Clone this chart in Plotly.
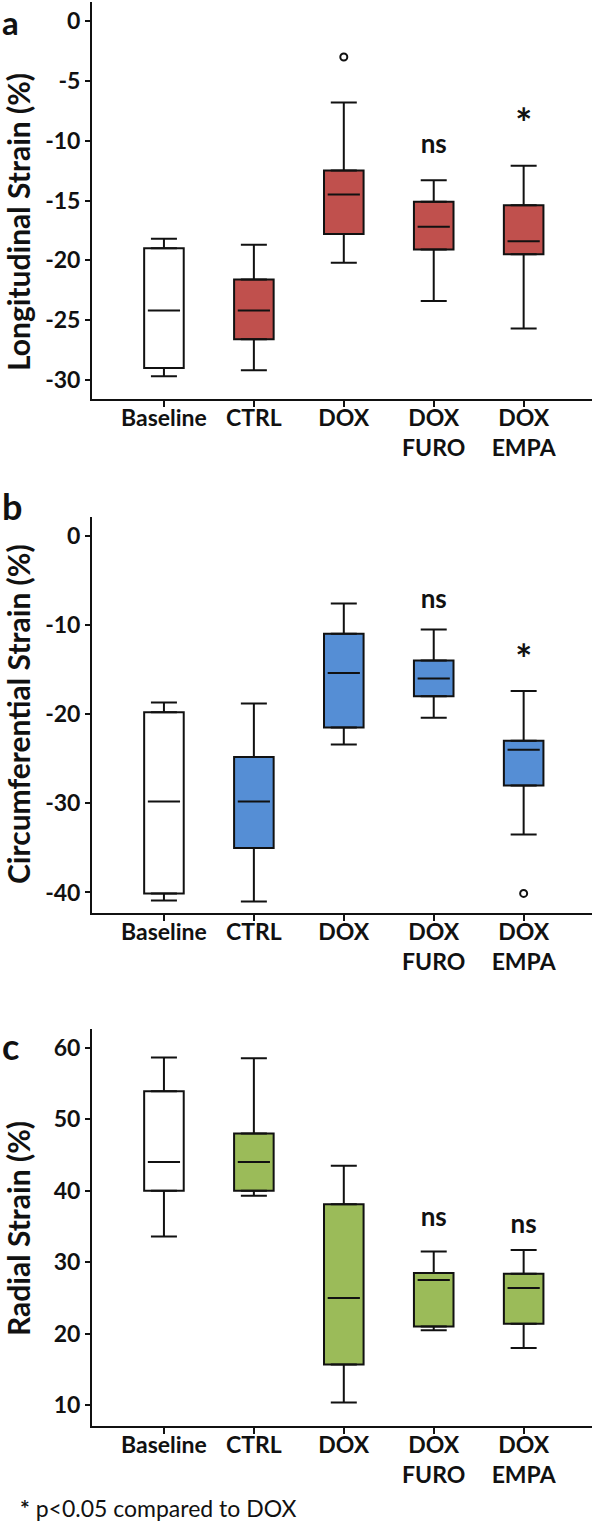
import plotly.graph_objects as go

W, H = 598, 1526

categories = ["Baseline", "CTRL", "DOX", "DOX FURO", "DOX EMPA"]
tick_labels = ["Baseline", "CTRL", "DOX", "DOX<br>FURO", "DOX<br>EMPA"]

# Panel a: Longitudinal strain
a_low = [-29.7, -29.2, -20.2, -23.4, -25.7]
a_q1 = [-29.0, -26.6, -17.8, -19.1, -19.5]
a_med = [-24.2, -24.2, -14.5, -17.2, -18.4]
a_q3 = [-19.0, -21.6, -12.5, -15.1, -15.4]
a_high = [-18.2, -18.7, -6.8, -13.3, -12.1]
a_out_x = ["DOX"]
a_out_y = [-3.0]
a_sig_x = ["DOX FURO", "DOX EMPA"]
a_sig_y = [-10.5, -8.95]
a_sig_t = ["ns", "*"]

# Panel b: Circumferential strain
b_low = [-40.9, -41.0, -23.4, -20.4, -33.5]
b_q1 = [-40.1, -35.0, -21.5, -18.0, -28.0]
b_med = [-29.8, -29.8, -15.4, -16.0, -24.0]
b_q3 = [-19.8, -24.8, -11.0, -14.0, -23.0]
b_high = [-18.7, -18.8, -7.6, -10.5, -17.4]
b_out_x = ["DOX EMPA"]
b_out_y = [-40.1]
b_sig_x = ["DOX FURO", "DOX EMPA"]
b_sig_y = [-7.4, -14.35]
b_sig_t = ["ns", "*"]

# Panel c: Radial strain
c_low = [33.6, 39.3, 10.4, 20.5, 18.0]
c_q1 = [40.0, 40.0, 15.7, 21.0, 21.4]
c_med = [44.0, 44.0, 25.0, 27.5, 26.4]
c_q3 = [53.9, 48.0, 38.1, 28.5, 28.4]
c_high = [58.6, 58.5, 43.5, 31.5, 31.7]
c_sig_x = ["DOX FURO", "DOX EMPA"]
c_sig_y = [35.9, 35.0]
c_sig_t = ["ns", "ns"]

y_titles = ["Longitudinal Strain (%)", "Circumferential Strain (%)", "Radial Strain (%)"]

RED, BLUE, GREEN = "#C0504D", "#558ED5", "#9BBB59"
FONT = "Lato"
INK = "#111"


def px_x(p):
    return p / W


def px_y(p):
    return 1 - p / H


fig = go.Figure()

panels = [
    dict(low=a_low, q1=a_q1, med=a_med, q3=a_q3, high=a_high, color=RED,
         out_x=a_out_x, out_y=a_out_y, sig_x=a_sig_x, sig_y=a_sig_y, sig_t=a_sig_t),
    dict(low=b_low, q1=b_q1, med=b_med, q3=b_q3, high=b_high, color=BLUE,
         out_x=b_out_x, out_y=b_out_y, sig_x=b_sig_x, sig_y=b_sig_y, sig_t=b_sig_t),
    dict(low=c_low, q1=c_q1, med=c_med, q3=c_q3, high=c_high, color=GREEN,
         out_x=[], out_y=[], sig_x=c_sig_x, sig_y=c_sig_y, sig_t=c_sig_t),
]

for i, p in enumerate(panels):
    xa = "x" if i == 0 else f"x{i+1}"
    ya = "y" if i == 0 else f"y{i+1}"
    fills = ["white"] + [p["color"]] * 4
    heights = [q3 - q1 for q1, q3 in zip(p["q1"], p["q3"])]
    fig.add_trace(go.Bar(
        x=categories, y=heights, base=p["q1"], width=0.44,
        marker=dict(color=fills, line=dict(color=INK, width=2)),
        xaxis=xa, yaxis=ya, showlegend=False, hoverinfo="skip"))
    # upper whiskers
    fig.add_trace(go.Scatter(
        x=categories, y=p["q3"], mode="markers",
        marker=dict(size=1, color="rgba(0,0,0,0)"),
        error_y=dict(type="data", symmetric=False,
                     array=[h - q for h, q in zip(p["high"], p["q3"])],
                     arrayminus=[0] * 5, width=13, thickness=2, color=INK),
        xaxis=xa, yaxis=ya, showlegend=False, hoverinfo="skip"))
    # lower whiskers
    fig.add_trace(go.Scatter(
        x=categories, y=p["q1"], mode="markers",
        marker=dict(size=1, color="rgba(0,0,0,0)"),
        error_y=dict(type="data", symmetric=False,
                     array=[0] * 5,
                     arrayminus=[q - l for q, l in zip(p["q1"], p["low"])],
                     width=13, thickness=2, color=INK),
        xaxis=xa, yaxis=ya, showlegend=False, hoverinfo="skip"))
    # medians
    fig.add_trace(go.Scatter(
        x=categories, y=p["med"], mode="markers",
        marker=dict(symbol="line-ew", size=23, line=dict(color=INK, width=2)),
        xaxis=xa, yaxis=ya, showlegend=False, hoverinfo="skip"))
    # outliers
    if p["out_x"]:
        fig.add_trace(go.Scatter(
            x=p["out_x"], y=p["out_y"], mode="markers",
            marker=dict(symbol="circle-open", size=7, color=INK, line=dict(width=2)),
            xaxis=xa, yaxis=ya, showlegend=False, hoverinfo="skip"))
    # significance
    fig.add_trace(go.Scatter(
        x=p["sig_x"], y=p["sig_y"], mode="text", text=p["sig_t"],
        textfont=dict(family=FONT, size=[26 if t == "ns" else 40 for t in p["sig_t"]],
                      color=INK, weight="bold"),
        xaxis=xa, yaxis=ya, showlegend=False, hoverinfo="skip"))

tickfont = dict(family=FONT, size=23, color=INK, weight="bold")

xdom = [px_x(92), px_x(592)]
common_x = dict(type="category", categoryorder="array", categoryarray=categories,
                tickvals=categories, ticktext=tick_labels, range=[-0.8, 4.76],
                showline=True, linewidth=2, linecolor=INK, ticks="outside",
                ticklen=6, tickwidth=2, tickcolor=INK, showgrid=False,
                zeroline=False, tickfont=tickfont, fixedrange=True,
                ticklabelstandoff=-9)
common_y = dict(showline=True, linewidth=2, linecolor=INK, ticks="outside",
                ticklen=5, tickwidth=2, tickcolor=INK, showgrid=False,
                zeroline=False, tickfont=tickfont)

a_ticks = [0, -5, -10, -15, -20, -25, -30]
b_ticks = [0, -10, -20, -30, -40]
c_ticks = [10, 20, 30, 40, 50, 60]

fig.update_layout(
    width=W, height=H, margin=dict(l=0, r=0, t=0, b=0),
    plot_bgcolor="white", paper_bgcolor="white", showlegend=False,
    xaxis=dict(common_x, domain=xdom, anchor="y"),
    xaxis2=dict(common_x, domain=xdom, anchor="y2"),
    xaxis3=dict(common_x, domain=xdom, anchor="y3"),
    yaxis=dict(common_y, domain=[px_y(399), px_y(2)], anchor="x", range=[-31.6, 1.6],
               tickvals=a_ticks, ticktext=[str(v) for v in a_ticks]),
    yaxis2=dict(common_y, domain=[px_y(913), px_y(517)], anchor="x2", range=[-42.3, 2.1],
                tickvals=b_ticks, ticktext=[str(v) for v in b_ticks]),
    yaxis3=dict(common_y, domain=[px_y(1426), px_y(1029)], anchor="x3", range=[7.1, 62.6],
                tickvals=c_ticks, ticktext=[str(v) for v in c_ticks]),
)

# y-axis titles (rotated)
for t, yy in zip(y_titles, [222, 714, 1229]):
    fig.add_annotation(text=t, x=px_x(18), y=px_y(yy), xref="paper", yref="paper",
                       xanchor="center", yanchor="middle", textangle=-90, showarrow=False,
                       font=dict(family=FONT, size=30, color=INK, weight="bold"))

# panel letters
fig.add_annotation(text="a", x=px_x(0), y=1, xref="paper", yref="paper",
                   xanchor="left", yanchor="top", showarrow=False,
                   font=dict(family=FONT, size=33, color=INK, weight="bold"))
for t, yy in [("b", 506), ("c", 1046)]:
    fig.add_annotation(text=t, x=px_x(0), y=px_y(yy), xref="paper", yref="paper",
                       xanchor="left", yanchor="middle", showarrow=False,
                       font=dict(family=FONT, size=36, color=INK, weight="bold"))

fig.add_annotation(text="<b>*</b> p<0.05 compared to DOX", x=px_x(18), y=px_y(1508),
                   xref="paper", yref="paper", xanchor="left", yanchor="middle",
                   showarrow=False, font=dict(family=FONT, size=23, color=INK))

fig.write_html("out.html", config={"displayModeBar": False},
               post_script="document.body.style.margin='0px';")
